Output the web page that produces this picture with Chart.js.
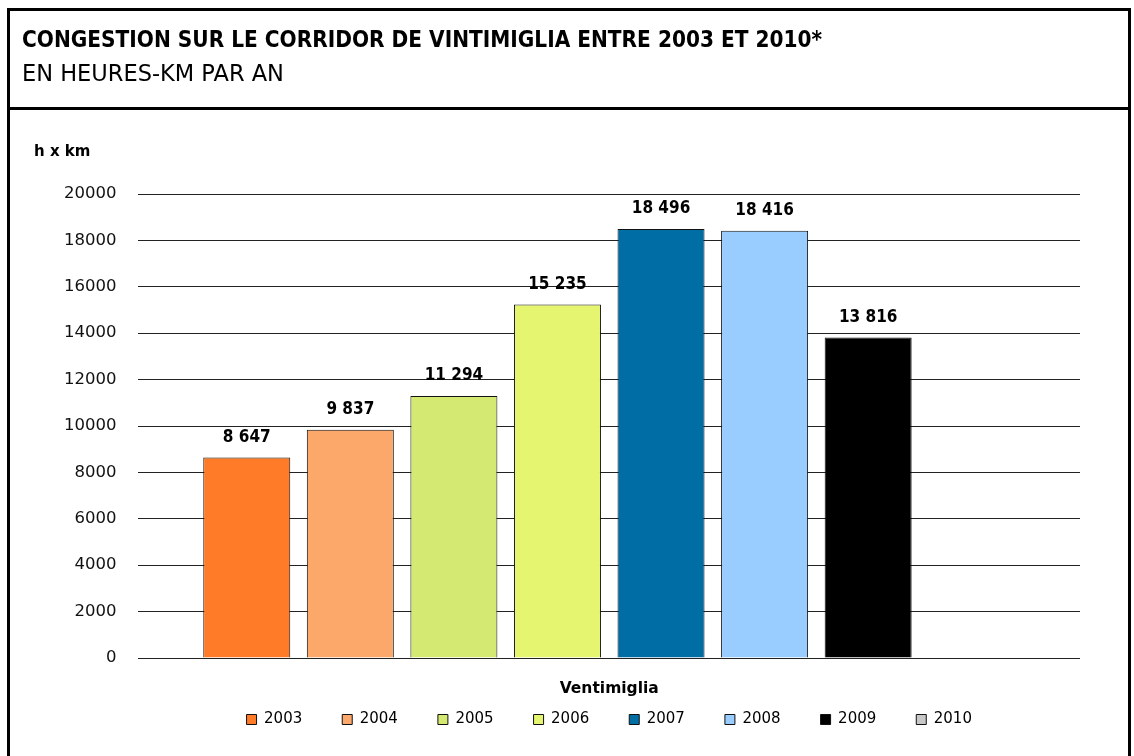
<!DOCTYPE html>
<html>
<head>
<meta charset="utf-8">
<script src="https://cdn.jsdelivr.net/npm/chart.js@4.4.0/dist/chart.umd.min.js"></script>
<style>
  body { margin: 0; background: #fff; font-family: "DejaVu Sans", sans-serif; }
  #wrap { position: relative; width: 1134px; height: 756px; overflow: hidden; }
  #chart { position: absolute; left: 0; top: 0; }
  .frame { position: absolute; left: 7px; top: 8px; width: 1118px; height: 800px; border: 3px solid #000; pointer-events: none; }
  .head { position: absolute; left: 7px; top: 8px; width: 1118px; height: 96px; border: 3px solid #000; pointer-events: none; }
  .title { position: absolute; left: 22px; top: 26px; font-family: "DejaVu Sans Condensed", sans-serif; font-weight: bold; font-size: 22.4px; color: #000; white-space: nowrap; }
  .subtitle { position: absolute; left: 22px; top: 60px; font-family: "DejaVu Sans", sans-serif; font-size: 22.5px; color: #000; white-space: nowrap; }
  .unit { position: absolute; left: 34px; top: 142px; font-weight: bold; font-size: 15px; color: #000; }
</style>
</head>
<body>
<div id="wrap">
  <canvas id="chart" width="1134" height="756"></canvas>
  <div class="frame"></div>
  <div class="head"></div>
  <div class="title">CONGESTION SUR LE CORRIDOR DE VINTIMIGLIA ENTRE 2003 ET 2010*</div>
  <div class="subtitle">EN HEURES-KM PAR AN</div>
  <div class="unit">h x km</div>
</div>
<script>
// Données : congestion en heures-km par an
const categories = ['Ventimiglia'];
const years = ['2003', '2004', '2005', '2006', '2007', '2008', '2009', '2010'];
const values = [8647, 9837, 11294, 15235, 18496, 18416, 13816, null];
const colors = ['#FF7B28', '#FCA86A', '#D4E972', '#E6F56F', '#006EA4', '#99CCFF', '#000000', '#C8C8C8'];
const yTicks = [0, 2000, 4000, 6000, 8000, 10000, 12000, 14000, 16000, 18000, 20000];

// "8647" -> "8 647"
function formatNombre(v) {
    return v.toString().replace(/\B(?=(\d{3})+(?!\d))/g, ' ');
}

// Étiquettes de valeur au-dessus des barres
const valeursPlugin = {
    id: 'valeurs',
    afterDatasetsDraw(chart) {
        const ctx = chart.ctx;
        ctx.save();
        ctx.font = 'bold 17px "DejaVu Sans Condensed"';
        ctx.fillStyle = '#000';
        ctx.textAlign = 'center';
        ctx.textBaseline = 'middle';
        chart.data.datasets.forEach((ds, i) => {
            const meta = chart.getDatasetMeta(i);
            meta.data.forEach((bar, j) => {
                const v = ds.data[j];
                if (v === null || v === undefined) return;
                ctx.fillText(formatNombre(v), bar.x, bar.y - 20);
            });
        });
        ctx.restore();
    }
};

const datasets = years.map((year, i) => ({
    label: year,
    data: [values[i]],
    backgroundColor: colors[i],
    borderColor: '#111',
    borderWidth: 1,
    categoryPercentage: 0.88,
    barPercentage: 0.84
}));

new Chart(document.getElementById('chart'), {
    type: 'bar',
    data: { labels: categories, datasets: datasets },
    options: {
        responsive: false,
        animation: false,
        layout: { padding: { left: 42, right: 54, top: 194, bottom: 19 } },
        plugins: {
            tooltip: { enabled: false },
            legend: {
                position: 'bottom',
                fullSize: false,
                labels: {
                    boxWidth: 10,
                    boxHeight: 10,
                    padding: 40,
                    color: '#000',
                    font: { family: 'DejaVu Sans', size: 15 }
                }
            }
        },
        scales: {
            x: {
                grid: { display: false, drawTicks: false },
                border: { display: false },
                // axe presque sans hauteur : la légende remonte sous le libellé
                afterFit(scale) { scale.height = 14; },
                ticks: {
                    mirror: true,
                    color: '#000',
                    padding: -40,
                    font: { family: 'DejaVu Sans', size: 15.5, weight: 'bold' }
                }
            },
            y: {
                min: 0,
                max: 20000,
                afterBuildTicks(scale) {
                    scale.ticks = yTicks.map(v => ({ value: v }));
                },
                grid: { color: '#222', lineWidth: 1, drawTicks: false },
                border: { display: false },
                ticks: {
                    color: '#111',
                    padding: 22,
                    font: { family: 'DejaVu Sans', size: 16.5 },
                    callback: v => String(v)
                }
            }
        }
    },
    plugins: [valeursPlugin]
});
</script>
</body>
</html>
